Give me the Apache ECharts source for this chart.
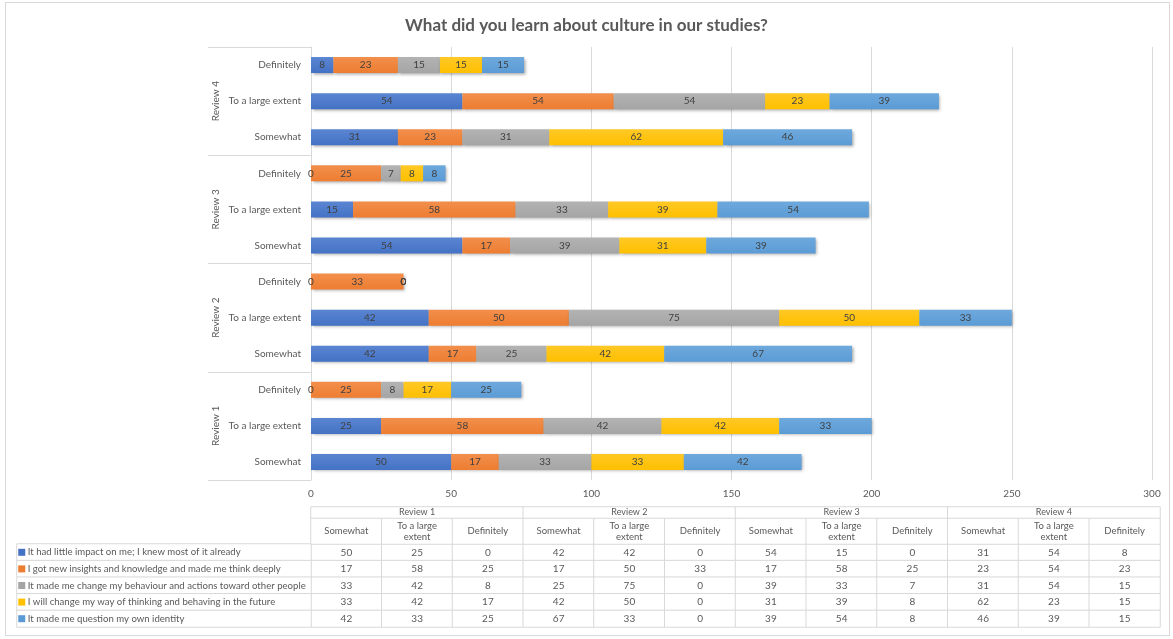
<!DOCTYPE html>
<html>
<head>
<meta charset="utf-8">
<script src="https://cdn.jsdelivr.net/npm/echarts@6/dist/echarts.min.js"></script>
<style>
html,body{margin:0;padding:0;background:#fff;}
#chart{width:1173px;height:639px;position:absolute;left:0;top:0;}
#frame{position:absolute;left:5px;top:2px;width:1165px;height:634px;border:1px solid #d9d9d9;box-sizing:border-box;pointer-events:none;}
</style>
</head>
<body>
<div id="chart"></div>
<div id="frame"></div>
<script>
// ---- data ----
const title = 'What did you learn about culture in our studies?';
const reviews = ['Review 1', 'Review 2', 'Review 3', 'Review 4'];
const levels = ['Somewhat', 'To a large extent', 'Definitely'];
const levelHeaders = ['Somewhat', 'To a large\nextent', 'Definitely'];
const seriesNames = [
  'It had little impact on me; I knew most of it already',
  'I got new insights and knowledge and made me think deeply',
  'It made me change my behaviour and actions toward other people',
  'I will change my way of thinking and behaving in the future',
  'It made me question my own identity'
];
// values per series, columns: R1 Somewhat, R1 Large, R1 Def, R2 ..., R4 Def
const littleImpact   = [50, 25, 0, 42, 42, 0, 54, 15, 0, 31, 54, 8];
const newInsights    = [17, 58, 25, 17, 50, 33, 17, 58, 25, 23, 54, 23];
const changeBehav    = [33, 42, 8, 25, 75, 0, 39, 33, 7, 31, 54, 15];
const changeThinking = [33, 42, 17, 42, 50, 0, 31, 39, 8, 62, 23, 15];
const questionIdent  = [42, 33, 25, 67, 33, 0, 39, 54, 8, 46, 39, 15];
const xTicks = [0, 50, 100, 150, 200, 250, 300];

const allValues = [littleImpact, newInsights, changeBehav, changeThinking, questionIdent];
const colors = ['#4472C4', '#ED7D31', '#A5A5A5', '#FFC000', '#5B9BD5'];
const lighter = ['#5a85d2', '#f28f4c', '#b3b3b3', '#ffc825', '#6ea9dd'];

const FONT = 'Lato';
const cats = [];
reviews.forEach(r => levels.forEach(l => cats.push(r + '|' + l)));
const colIdx = cats.map((c, i) => i);

const barSeries = allValues.map((vals, i) => ({
  name: seriesNames[i],
  type: 'bar',
  stack: 'total',
  xAxisIndex: 0, yAxisIndex: 0,
  barWidth: 16,
  data: vals,
  itemStyle: {
    color: new echarts.graphic.LinearGradient(0, 0, 0, 1, [
      {offset: 0, color: lighter[i]}, {offset: 1, color: colors[i]}
    ]),
    shadowColor: 'rgba(0,0,0,0.35)', shadowBlur: 3, shadowOffsetX: 1.5, shadowOffsetY: 1.5
  },
  label: {
    show: true, position: 'inside', color: '#404040', fontSize: 10, fontFamily: FONT,
    formatter: p => String(p.value)
  }
}));

// table data
const cellData = [];
allValues.forEach((vals, r) => vals.forEach((v, c) => cellData.push([c, r, v])));
const rowLabelData = seriesNames.map((n, r) => [0, r, 0]);
const subHeadData = colIdx.map(c => [c, 0, 0]);
const reviewHeadData = reviews.map((r, i) => [i, 0, 0]);

const cellStyle = {color: '#fff', borderColor: '#d9d9d9', borderWidth: 1};
const hidden = {show: false};

const option = {
  backgroundColor: '#fff',
  animation: false,
  title: {
    text: title, left: 'center', top: 12,
    textStyle: {fontSize: 17, fontWeight: 'bold', color: '#595959', fontFamily: FONT}
  },
  grid: [
    {left: 311, right: 21, top: 47, bottom: 159},
    {left: 311, right: 13, top: 544, height: 83},
    {left: 17, width: 294, top: 544, height: 83},
    {left: 311, right: 13, top: 518, height: 26},
    {left: 311, right: 13, top: 507, height: 11}
  ],
  xAxis: [
    {gridIndex: 0, type: 'value', min: 0, max: 300, interval: 50,
     axisLine: hidden, axisTick: hidden,
     axisLabel: {color: '#595959', fontSize: 10, fontFamily: FONT, margin: 9},
     splitLine: {lineStyle: {color: '#d9d9d9'}}},
    {gridIndex: 1, type: 'category', data: colIdx, show: false},
    {gridIndex: 2, type: 'category', data: [0], show: false},
    {gridIndex: 3, type: 'category', data: colIdx, show: false},
    {gridIndex: 4, type: 'category', data: reviews, show: false}
  ],
  yAxis: [
    {gridIndex: 0, type: 'category', data: cats,
     axisLine: {show: true, lineStyle: {color: '#d9d9d9'}},
     axisTick: hidden,
     axisLabel: {color: '#595959', fontSize: 10, fontFamily: FONT, margin: 10,
       formatter: v => v.split('|')[1]}},
    {gridIndex: 0, type: 'category', data: reviews, position: 'left', offset: 103,
     axisLine: hidden,
     axisTick: {show: true, inside: true, length: 103, lineStyle: {color: '#d9d9d9'}},
     axisLabel: {color: '#595959', fontSize: 10, fontFamily: FONT, rotate: 90, inside: true, margin: 3}},
    {gridIndex: 1, type: 'category', data: seriesNames, inverse: true, show: false},
    {gridIndex: 2, type: 'category', data: seriesNames, inverse: true, show: false},
    {gridIndex: 3, type: 'category', data: [0], show: false},
    {gridIndex: 4, type: 'category', data: [0], show: false}
  ],
  series: barSeries.concat([
    {type: 'heatmap', xAxisIndex: 1, yAxisIndex: 2, data: cellData,
     itemStyle: cellStyle, emphasis: {disabled: true},
     label: {show: true, color: '#595959', fontSize: 10, fontFamily: FONT, formatter: p => String(p.value[2])}},
    {type: 'heatmap', xAxisIndex: 2, yAxisIndex: 3, data: rowLabelData,
     itemStyle: cellStyle, emphasis: {disabled: true},
     label: {show: true, position: 'insideLeft', distance: 2, fontSize: 9.6, fontFamily: FONT, color: '#595959',
       formatter: p => '{s' + p.value[1] + '|} ' + seriesNames[p.value[1]],
       rich: Object.fromEntries(colors.map((c, i) => ['s' + i, {width: 7, height: 7, backgroundColor: c}]))}},
    {type: 'heatmap', xAxisIndex: 3, yAxisIndex: 4, data: subHeadData,
     itemStyle: cellStyle, emphasis: {disabled: true},
     label: {show: true, color: '#595959', fontSize: 9.5, lineHeight: 11, fontFamily: FONT,
       formatter: p => levelHeaders[p.value[0] % 3]}},
    {type: 'heatmap', xAxisIndex: 4, yAxisIndex: 5, data: reviewHeadData,
     itemStyle: cellStyle, emphasis: {disabled: true},
     label: {show: true, color: '#595959', fontSize: 9, fontFamily: FONT,
       formatter: p => reviews[p.value[0]]}}
  ])
};

const chart = echarts.init(document.getElementById('chart'), null, {renderer: 'canvas'});
chart.setOption(option);
</script>
</body>
</html>
